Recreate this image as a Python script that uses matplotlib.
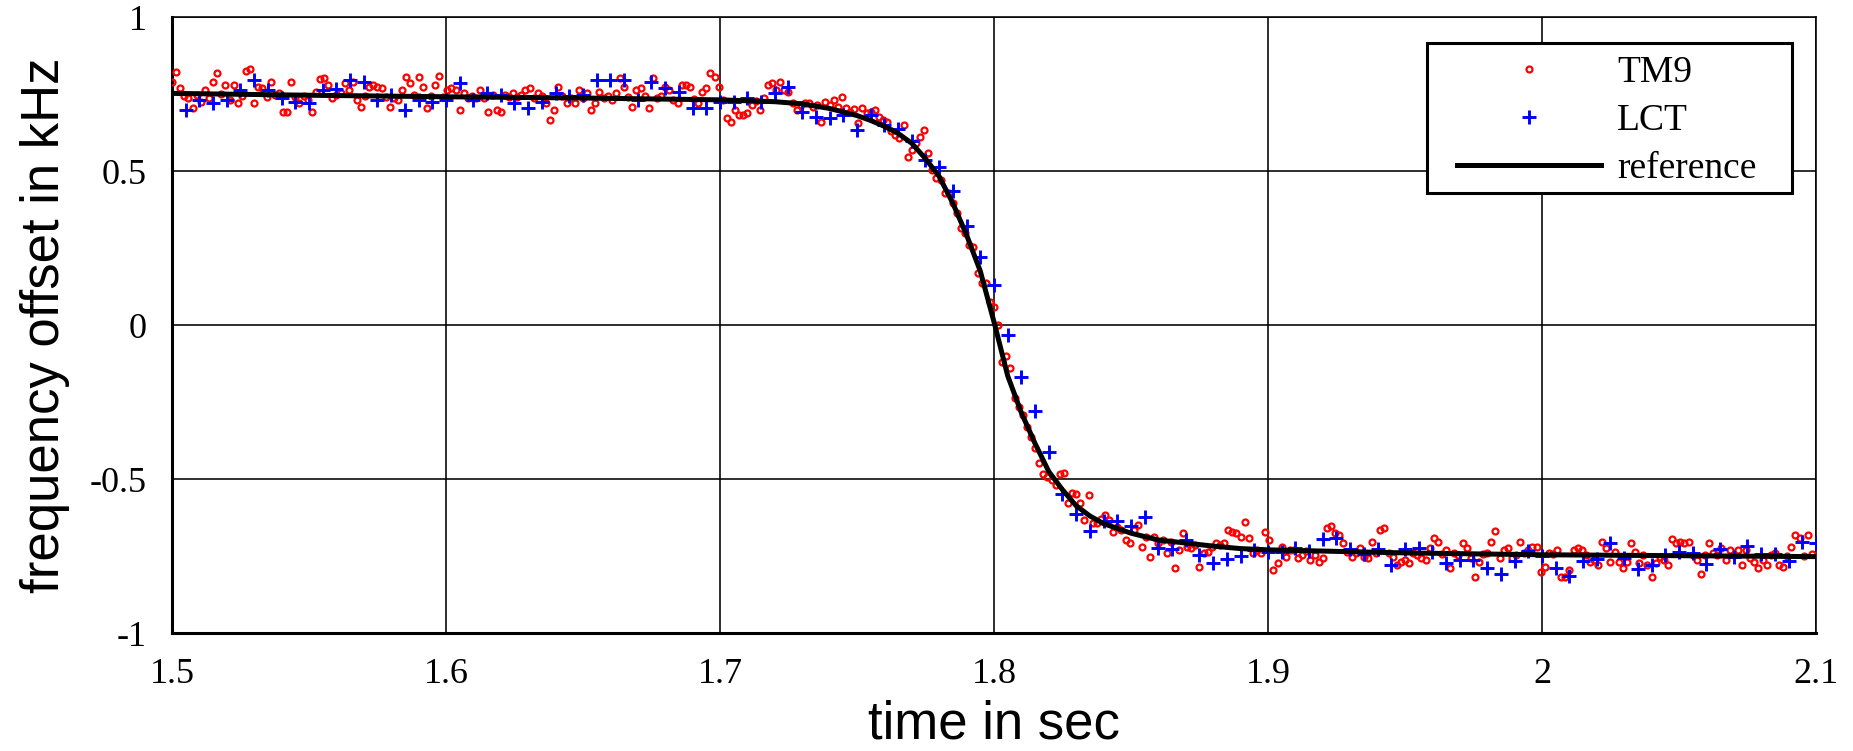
import numpy as np
import matplotlib
matplotlib.use("Agg")
import matplotlib.pyplot as plt
from matplotlib.patches import Rectangle

# ---------------- data ----------------
x_ticks = [1.5, 1.6, 1.7, 1.8, 1.9, 2.0, 2.1]
x_tick_labels = ["1.5", "1.6", "1.7", "1.8", "1.9", "2", "2.1"]
y_ticks = [-1, -0.5, 0, 0.5, 1]
y_tick_labels = ["-1", "-0.5", "0", "0.5", "1"]

# reference curve (time in sec, offset in kHz)
ref_t = [1.500, 1.550, 1.600, 1.650, 1.700, 1.720, 1.730, 1.740, 1.750, 1.755,
         1.760, 1.765, 1.770, 1.775, 1.780, 1.785, 1.790, 1.795, 1.8003, 1.805,
         1.810, 1.815, 1.820, 1.825, 1.830, 1.835, 1.840, 1.850, 1.860, 1.870,
         1.880, 1.890, 1.900, 1.950, 2.000, 2.050, 2.100]
ref_v = [0.752, 0.746, 0.741, 0.737, 0.731, 0.725, 0.718, 0.703, 0.680, 0.664,
         0.645, 0.622, 0.590, 0.540, 0.482, 0.395, 0.292, 0.175, 0.000, -0.165,
         -0.285, -0.385, -0.476, -0.535, -0.587, -0.620, -0.645, -0.676, -0.698, -0.708,
         -0.718, -0.726, -0.730, -0.740, -0.746, -0.749, -0.752]

# LCT estimates, sampled every 5 ms starting at 1.505 s
lct_start = 1.505
lct_step = 0.005
lct_v = [0.698, 0.730, 0.720, 0.730, 0.763, 0.795, 0.763, 0.736, 0.725, 0.720,
         0.763, 0.765, 0.797, 0.790, 0.730, 0.747, 0.698, 0.730, 0.725, 0.730,
         0.785, 0.730, 0.752, 0.747, 0.722, 0.704, 0.725, 0.752, 0.742, 0.747,
         0.797, 0.795, 0.797, 0.730, 0.790, 0.770, 0.758, 0.704, 0.704, 0.725,
         0.725, 0.736, 0.725, 0.752, 0.774, 0.693, 0.676, 0.671, 0.682, 0.633,
         0.682, 0.648, 0.636, 0.598, 0.536, 0.512, 0.436, 0.321, 0.220, 0.130,
         -0.032, -0.170, -0.278, -0.411, -0.549, -0.615, -0.670, -0.637, -0.637, -0.651,
         -0.622, -0.725, -0.728, -0.698, -0.747, -0.774, -0.761, -0.750, -0.731, -0.736,
         -0.736, -0.725, -0.733, -0.696, -0.693, -0.728, -0.744, -0.728, -0.779, -0.728,
         -0.725, -0.736, -0.774, -0.763, -0.763, -0.790, -0.808, -0.765, -0.733, -0.750,
         -0.790, -0.815, -0.766, -0.761, -0.707, -0.758, -0.793, -0.779, -0.747, -0.736,
         -0.741, -0.776, -0.728, -0.752, -0.718, -0.744, -0.744, -0.765, -0.703, -0.707]

# TM9 estimates, sampled every 1.5 ms starting at 1.5 s
tm9_start = 1.5
tm9_step = 0.0015
tm9_v = [
    # 1.500 - 1.5885
    0.790, 0.822, 0.768, 0.745, 0.736, 0.703, 0.747, 0.725, 0.763, 0.736,
    0.790, 0.819, 0.750, 0.779, 0.730, 0.779, 0.720, 0.742, 0.826, 0.830,
    0.720, 0.774, 0.768, 0.741, 0.790, 0.748, 0.752, 0.693, 0.693, 0.790,
    0.741, 0.720, 0.745, 0.730, 0.693, 0.758, 0.798, 0.801, 0.779, 0.736,
    0.747, 0.752, 0.785, 0.763, 0.790, 0.730, 0.709, 0.745, 0.774, 0.779,
    0.774, 0.768, 0.740, 0.709, 0.736, 0.730, 0.763, 0.806, 0.785, 0.748,
    # 1.590 - 1.6785
    0.806, 0.774, 0.703, 0.745, 0.779, 0.808, 0.740, 0.763, 0.768, 0.763,
    0.698, 0.752, 0.736, 0.745, 0.736, 0.763, 0.736, 0.693, 0.748, 0.698,
    0.693, 0.747, 0.741, 0.752, 0.740, 0.747, 0.763, 0.768, 0.736, 0.752,
    0.745, 0.720, 0.666, 0.698, 0.774, 0.742, 0.720, 0.736, 0.720, 0.763,
    0.738, 0.752, 0.698, 0.720, 0.758, 0.736, 0.745, 0.730, 0.752, 0.801,
    0.774, 0.740, 0.709, 0.763, 0.768, 0.742, 0.703, 0.801, 0.738, 0.745,
    # 1.680 - 1.7595
    0.774, 0.763, 0.730, 0.720, 0.779, 0.779, 0.774, 0.735, 0.720, 0.758,
    0.768, 0.817, 0.806, 0.774, 0.730, 0.671, 0.660, 0.698, 0.682, 0.682,
    0.687, 0.714, 0.728, 0.698, 0.736, 0.779, 0.785, 0.763, 0.790, 0.763,
    0.758, 0.722, 0.698, 0.714, 0.720, 0.720, 0.709, 0.714, 0.660, 0.725,
    0.715, 0.730, 0.709, 0.741, 0.703, 0.693, 0.700, 0.655, 0.703, 0.687,
    0.690, 0.698, 0.676, 0.665,
    # 1.761 - 1.8015
    0.660, 0.630, 0.617, 0.606, 0.649, 0.547, 0.568, 0.590, 0.612, 0.633,
    0.557, 0.503, 0.476, 0.470, 0.428, 0.428, 0.395, 0.363, 0.314, 0.300,
    0.260, 0.254, 0.168, 0.135, 0.135, 0.075, 0.060, 0.000,
    # 1.803 - 1.851
    -0.119, -0.100, -0.141, -0.238, -0.265, -0.292, -0.330, -0.363, -0.400, -0.447,
    -0.484, -0.492, -0.503, -0.519, -0.484, -0.482, -0.579, -0.547, -0.549, -0.579,
    -0.633, -0.552, -0.644, -0.644, -0.630, -0.617, -0.633, -0.671, -0.655, -0.666,
    -0.698, -0.709, -0.666,
    # 1.8525 - 1.914
    -0.649, -0.720, -0.687, -0.754, -0.687, -0.709, -0.698, -0.741, -0.705, -0.790,
    -0.731, -0.676, -0.720, -0.725, -0.714, -0.785, -0.741, -0.736, -0.722, -0.709,
    -0.714, -0.709, -0.666, -0.671, -0.676, -0.687, -0.639, -0.693, -0.741, -0.730,
    -0.741, -0.671, -0.698, -0.795, -0.774, -0.720, -0.752, -0.731, -0.730, -0.758,
    -0.747, -0.735,
    # 1.9155 - 2.007
    -0.763, -0.747, -0.768, -0.758, -0.660, -0.653, -0.676, -0.682, -0.709, -0.738,
    -0.752, -0.741, -0.725, -0.752, -0.758, -0.703, -0.741, -0.666, -0.660, -0.740,
    -0.752, -0.779, -0.768, -0.763, -0.774, -0.741, -0.747, -0.758, -0.763, -0.725,
    -0.693, -0.703, -0.742, -0.731, -0.790, -0.741, -0.747, -0.709, -0.725, -0.758,
    -0.817, -0.768, -0.745, -0.741, -0.703, -0.668, -0.758, -0.731, -0.725, -0.758,
    -0.747, -0.703, -0.741, -0.731, -0.720, -0.720, -0.801, -0.785, -0.741, -0.745,
    -0.731, -0.817,
    # 2.0085 - 2.0985
    -0.819, -0.795, -0.731, -0.725, -0.731, -0.748, -0.768, -0.763, -0.779, -0.703,
    -0.725, -0.768, -0.736, -0.768, -0.790, -0.768, -0.707, -0.736, -0.774, -0.747,
    -0.779, -0.819, -0.774, -0.752, -0.763, -0.779, -0.696, -0.709, -0.703, -0.709,
    -0.703, -0.747, -0.763, -0.808, -0.747, -0.709, -0.741, -0.747, -0.725, -0.763,
    -0.731, -0.747, -0.731, -0.779, -0.731, -0.758, -0.768, -0.790, -0.763, -0.779,
    -0.747, -0.741, -0.779, -0.785, -0.750, -0.720, -0.682, -0.693, -0.750, -0.682,
    -0.745,
]

tm9_t = tm9_start + tm9_step * np.arange(len(tm9_v))
lct_t = lct_start + lct_step * np.arange(len(lct_v))

# ---------------- figure ----------------
W, H, DPI = 1853, 751, 100
fig = plt.figure(figsize=(W / DPI, H / DPI), dpi=DPI, facecolor="white")
AX_L, AX_R, AX_T, AX_B = 172, 1816, 17, 633
ax = fig.add_axes([AX_L / W, 1 - AX_B / H, (AX_R - AX_L) / W, (AX_B - AX_T) / H])

def ax_x(px):
    return (px - AX_L) / (AX_R - AX_L)

def ax_y(py):
    return (AX_B - py) / (AX_B - AX_T)

serif = ["Liberation Serif", "DejaVu Serif"]
sans = ["Liberation Sans", "DejaVu Sans"]

ax.grid(True, color="black", linewidth=1.15)
ax.set_axisbelow(True)

ax.plot(tm9_t, tm9_v, linestyle="none", marker="o", markersize=4.3,
        markerfacecolor="none", markeredgecolor="#ff0000", markeredgewidth=1.6,
        label="TM9", zorder=3)
ax.plot(lct_t, lct_v, linestyle="none", marker="+", markersize=10.5,
        markeredgecolor="#0000ff", markeredgewidth=2.1, label="LCT", zorder=4)
ax.plot(ref_t, ref_v, color="black", linewidth=3.6, label="reference",
        solid_joinstyle="round", zorder=5)

ax.set_xlim(1.5, 2.1)
ax.set_ylim(-1, 1)
ax.set_xticks(x_ticks)
ax.set_xticklabels(x_tick_labels, family=serif, fontsize=26)
ax.set_yticks(y_ticks)
ax.set_yticklabels(y_tick_labels, family=serif, fontsize=26)
ax.tick_params(axis="x", length=0, pad=18)
ax.tick_params(axis="y", length=0, pad=18)

for side in ["left", "bottom"]:
    ax.spines[side].set_linewidth(2.2)
for side in ["top", "right"]:
    ax.spines[side].set_linewidth(1.15)

ax.set_xlabel("time in sec", family=sans, fontsize=38)
ax.xaxis.set_label_coords(0.5, -0.108)
ax.set_ylabel("frequency offset in kHz", family=sans, fontsize=38)
ax.yaxis.set_label_coords(-0.062, 0.5)

# legend frame (layout box in axes fraction) and legend content
frame = Rectangle((ax_x(1427), ax_y(193)), ax_x(1792) - ax_x(1427), ax_y(43) - ax_y(193),
                  transform=ax.transAxes, facecolor="white", edgecolor="black",
                  linewidth=2.2, zorder=6, clip_on=False)
ax.add_patch(frame)
leg = ax.legend(loc="center left", bbox_to_anchor=(ax_x(1457), ax_y(121)),
                borderaxespad=0, borderpad=0, frameon=False,
                prop={"family": serif, "size": 27}, handlelength=3.84,
                handletextpad=0.43, labelspacing=0.36)
leg.set_zorder(7)

fig.savefig("out.png", dpi=DPI, facecolor="white")
